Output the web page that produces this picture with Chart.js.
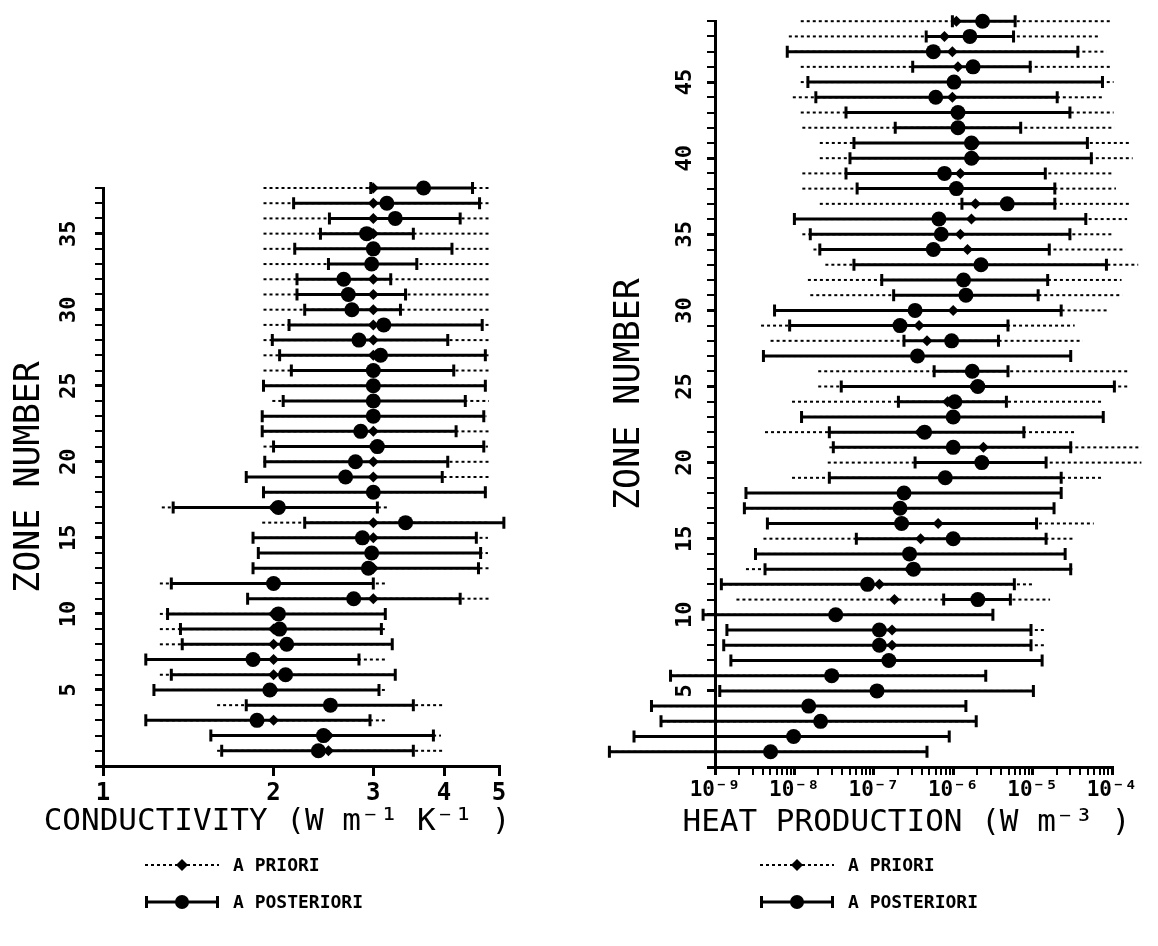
<!DOCTYPE html>
<html>
<head>
<meta charset="utf-8">
<script src="https://cdn.jsdelivr.net/npm/chart.js@4.4.1/dist/chart.umd.min.js"></script>
<style>
  html, body { margin: 0; padding: 0; background: #fff; }
  body { width: 1158px; height: 946px; position: relative; overflow: hidden; font-family: "DejaVu Sans Mono", monospace; }
  .panel { position: absolute; top: 0; height: 850px; }
  #condBox { left: 0; width: 560px; }
  #heatBox { left: 560px; width: 598px; }
  .legend { position: absolute; top: 846px; font-size: 18px; font-weight: bold; color: #000; }
  .legend div { height: 37px; display: flex; align-items: center; }
  .legend canvas { margin-right: 14px; }
</style>
</head>
<body>
<div class="panel" id="condBox"><canvas id="cond"></canvas></div>
<div class="panel" id="heatBox"><canvas id="heat"></canvas></div>
<div class="legend" id="condLegend" style="left:145px"></div>
<div class="legend" id="heatLegend" style="left:760px"></div>
<script>
// ---- conductivity panel (W m-1 K-1), zones 1..38 ----
const condZones = [1, 2, 3, 4, 5, 6, 7, 8, 9, 10, 11, 12, 13, 14, 15, 16, 17, 18, 19,
  20, 21, 22, 23, 24, 25, 26, 27, 28, 29, 30, 31, 32, 33, 34, 35, 36, 37, 38];
const condPrior = [2.5, 2.5, 2.0, 2.5, 2.0, 2.0, 2.0, 2.0, 2.0, 2.0,
  3.0, 2.0, 3.0, 3.0, 3.0, 3.0, 2.0, 3.0, 3.0, 3.0,
  3.0, 3.0, 3.0, 3.0, 3.0, 3.0, 3.0, 3.0, 3.0, 3.0,
  3.0, 3.0, 3.0, 3.0, 3.0, 3.0, 3.0, 3.0];
const condPriorLo = [1.59, 1.59, 1.26, 1.59, 1.26, 1.26, 1.26, 1.26, 1.26, 1.26,
  1.92, 1.26, 1.92, 1.92, 1.92, 1.91, 1.27, 1.92, 1.92, 1.92,
  1.92, 1.92, 1.92, 1.99, 1.92, 1.92, 1.92, 1.92, 1.92, 1.92,
  1.92, 1.92, 1.92, 1.92, 1.92, 1.92, 1.92, 1.92];
const condPriorHi = [3.99, 3.95, 3.17, 3.99, 3.17, 3.28, 3.17, 3.2, 3.17, 3.17,
  4.8, 3.17, 4.8, 4.78, 4.78, 4.8, 3.17, 4.75, 4.8, 4.8,
  4.78, 4.8, 4.75, 4.8, 4.75, 4.8, 4.8, 4.8, 4.8, 4.83,
  4.83, 4.83, 4.83, 4.83, 4.83, 4.83, 4.83, 4.83];
const condPost = [2.4, 2.45, 1.87, 2.52, 1.97, 2.1, 1.84, 2.11, 2.05, 2.04,
  2.77, 2.0, 2.94, 2.98, 2.87, 3.42, 2.04, 3.0, 2.68, 2.79,
  3.05, 2.85, 3.0, 3.0, 3.0, 3.0, 3.09, 2.83, 3.13, 2.75,
  2.71, 2.66, 2.98, 3.0, 2.92, 3.28, 3.17, 3.68];
const condPostLo = [1.62, 1.55, 1.19, 1.79, 1.23, 1.32, 1.19, 1.38, 1.37, 1.30,
  1.8, 1.32, 1.84, 1.88, 1.84, 2.27, 1.33, 1.92, 1.79, 1.93,
  2.0, 1.91, 1.91, 2.08, 1.92, 2.15, 2.05, 1.99, 2.13, 2.27,
  2.2, 2.2, 2.5, 2.18, 2.42, 2.51, 2.17, 2.97];
const condPostHi = [3.53, 3.83, 2.96, 3.53, 3.07, 3.28, 2.83, 3.24, 3.1, 3.15,
  4.27, 3.0, 4.6, 4.64, 4.56, 5.1, 3.05, 4.73, 3.97, 4.06,
  4.7, 4.2, 4.7, 4.36, 4.73, 4.16, 4.73, 4.06, 4.67, 3.35,
  3.42, 3.22, 3.58, 4.13, 3.53, 4.27, 4.62, 4.49];
const condTicks = [1, 2, 3, 4, 5];
const condTickLabels = ['1', '2', '3', '4', '5'];

// ---- heat production panel, log10(W m-3), zones 1..49 ----
const heatZones = [1, 2, 3, 4, 5, 6, 7, 8, 9, 10, 11, 12, 13, 14, 15, 16, 17, 18, 19,
  20, 21, 22, 23, 24, 25, 26, 27, 28, 29, 30, 31, 32, 33, 34, 35, 36, 37, 38, 39,
  40, 41, 42, 43, 44, 45, 46, 47, 48, 49];
const heatPriorLog = [-8.3, -8.01, -7.67, -7.82, -6.96, -7.53, -6.81, -6.77, -6.77, -7.48,
  -6.74, -6.93, -6.55, -6.55, -6.41, -6.19, -6.67, -6.62, -6.07, -5.6,
  -5.62, -6.42, -6.0, -6.07, -5.74, -5.74, -6.45, -6.33, -6.43, -6.0,
  -5.84, -5.86, -5.64, -5.82, -5.91, -5.77, -5.72, -5.93, -5.91, -5.72,
  -5.72, -5.94, -5.94, -6.01, -5.97, -5.94, -6.01, -6.11, -5.96];
const heatPriorLoLog = [-10.33, -10.02, -9.68, -9.8, -8.94, -9.56, -8.8, -8.75, -8.75, -9.15,
  -8.73, -8.9, -8.61, -8.49, -8.39, -8.17, -8.63, -8.61, -8.03, -7.58,
  -7.56, -8.37, -7.91, -8.03, -7.7, -7.7, -8.39, -8.3, -8.42, -7.96,
  -7.8, -7.83, -7.61, -7.76, -7.9, -7.77, -7.68, -7.9, -7.9, -7.68,
  -7.68, -7.9, -7.92, -8.02, -7.92, -7.92, -8.0, -8.07, -7.92];
const heatPriorHiLog = [-6.33, -6.05, -5.71, -5.84, -4.99, -5.59, -4.88, -4.83, -4.83, -5.5,
  -4.78, -4.99, -4.5, -4.59, -4.47, -4.23, -4.73, -4.64, -4.11, -3.63,
  -3.63, -4.47, -4.11, -4.11, -3.78, -3.78, -4.52, -4.37, -4.47, -4.06,
  -3.87, -3.88, -3.67, -3.83, -3.98, -3.81, -3.76, -3.95, -3.98, -3.74,
  -3.76, -3.97, -3.98, -4.1, -3.98, -4.0, -4.07, -4.17, -4.0];
const heatPostLog = [-8.3, -8.01, -7.67, -7.82, -6.96, -7.53, -6.81, -6.93, -6.93, -7.48,
  -5.69, -7.08, -6.5, -6.55, -6.0, -6.65, -6.67, -6.62, -6.1, -5.64,
  -6.0, -6.36, -6.0, -5.98, -5.69, -5.76, -6.45, -6.02, -6.67, -6.48,
  -5.84, -5.87, -5.65, -6.25, -6.15, -6.18, -5.32, -5.96, -6.11, -5.77,
  -5.77, -5.94, -5.94, -6.22, -5.99, -5.75, -6.25, -5.79, -5.63];
const heatPostLoLog = [-10.33, -10.02, -9.68, -9.8, -8.94, -9.56, -8.8, -8.89, -8.85, -9.15,
  -6.12, -8.92, -8.37, -8.49, -7.22, -8.34, -8.63, -8.61, -7.56, -6.48,
  -7.51, -7.56, -7.91, -6.69, -7.41, -6.24, -8.39, -6.62, -8.06, -8.25,
  -6.75, -6.9, -7.25, -7.68, -7.8, -8.0, -5.89, -7.21, -7.35, -7.3,
  -7.25, -6.73, -7.35, -7.73, -7.83, -6.51, -8.09, -6.34, -6.01];
const heatPostHiLog = [-6.33, -6.05, -5.71, -5.84, -4.99, -5.59, -4.88, -5.02, -5.02, -5.5,
  -5.28, -5.23, -4.52, -4.59, -4.83, -4.95, -4.73, -4.64, -4.64, -4.83,
  -4.52, -5.11, -4.11, -5.33, -3.97, -5.31, -4.52, -5.43, -5.31, -4.64,
  -4.93, -4.81, -4.07, -4.79, -4.53, -4.33, -4.72, -4.72, -4.84, -4.26,
  -4.31, -5.15, -4.53, -4.69, -4.12, -5.03, -4.43, -5.24, -5.22];
const heatDecades = [-9, -8, -7, -6, -5, -4];
const heatTickLabels = ['10⁻⁹', '10⁻⁸', '10⁻⁷', '10⁻⁶', '10⁻⁵', '10⁻⁴'];

const FONT = '"DejaVu Sans Mono", monospace';
Chart.defaults.font.family = FONT;
Chart.defaults.color = '#000';

const fromLog = (arr) => arr.map((e) => Math.pow(10, e));

// error bars are drawn under the markers, through the chart scales
function makeErrorBars(zones, priorLo, priorHi, postLo, postHi) {
  return {
    id: 'errorBars',
    beforeDatasetsDraw(chart) {
      const { ctx, scales: { x, y } } = chart;
      ctx.save();
      ctx.strokeStyle = '#000';
      ctx.lineWidth = 2;
      ctx.setLineDash([3, 3]);
      zones.forEach((z, i) => {
        const py = y.getPixelForValue(z);
        ctx.beginPath();
        ctx.moveTo(x.getPixelForValue(priorLo[i]), py);
        ctx.lineTo(x.getPixelForValue(priorHi[i]), py);
        ctx.stroke();
      });
      ctx.setLineDash([]);
      ctx.lineWidth = 3;
      zones.forEach((z, i) => {
        const py = y.getPixelForValue(z);
        const x0 = x.getPixelForValue(postLo[i]);
        const x1 = x.getPixelForValue(postHi[i]);
        ctx.beginPath();
        ctx.moveTo(x0, py);
        ctx.lineTo(x1, py);
        ctx.moveTo(x0, py - 6);
        ctx.lineTo(x0, py + 6);
        ctx.moveTo(x1, py - 6);
        ctx.lineTo(x1, py + 6);
        ctx.stroke();
      });
      ctx.restore();
    },
  };
}

// x-axis title drawn without the chart-area width limit (Chart.js squeezes long titles)
function makeXTitle(text, dx) {
  return {
    id: 'xTitle',
    afterDraw(chart) {
      const { ctx, chartArea } = chart;
      ctx.save();
      ctx.font = '31px ' + FONT;
      ctx.fillStyle = '#000';
      ctx.textAlign = 'center';
      ctx.textBaseline = 'middle';
      ctx.fillText(text, (chartArea.left + chartArea.right) / 2 + dx, chartArea.bottom + 56);
      ctx.restore();
    },
  };
}

function markerSets(zones, prior, post) {
  return [
    {
      label: 'A PRIORI',
      data: zones.map((z, i) => ({ x: prior[i], y: z })),
      pointStyle: 'rectRot',
      pointRadius: 5.5,
      backgroundColor: '#000',
      borderColor: '#000',
      borderWidth: 0,
      clip: false,
    },
    {
      label: 'A POSTERIORI',
      data: zones.map((z, i) => ({ x: post[i], y: z })),
      pointStyle: 'circle',
      pointRadius: 7.5,
      backgroundColor: '#000',
      borderColor: '#000',
      borderWidth: 0,
      clip: false,
    },
  ];
}

function zoneAxis(maxZone, yWidth, titlePad, tickPad) {
  return {
    type: 'linear',
    min: 0,
    max: maxZone,
    afterFit: (s) => { s.width = yWidth; },
    ticks: {
      stepSize: 1,
      autoSkip: false,
      minRotation: 90,
      maxRotation: 90,
      crossAlign: 'center',
      padding: tickPad,
      font: { size: 22, weight: 'bold' },
      callback: (v) => (v > 0 && v % 5 === 0 ? String(v) : ''),
    },
    grid: {
      drawOnChartArea: false,
      drawTicks: true,
      tickLength: 8,
      color: '#000',
      lineWidth: (c) => (c.tick && c.tick.value % 5 === 0 ? 3 : 2),
    },
    border: { display: true, color: '#000', width: 3 },
    title: {
      display: true,
      text: 'ZONE NUMBER',
      font: { size: 35 },
      padding: { top: titlePad, bottom: 0 },
    },
  };
}

// conductivity chart
new Chart(document.getElementById('cond'), {
  type: 'scatter',
  data: { datasets: markerSets(condZones, condPrior, condPost) },
  plugins: [
    makeErrorBars(condZones, condPriorLo, condPriorHi, condPostLo, condPostHi),
    makeXTitle('CONDUCTIVITY (W m⁻¹ K⁻¹ )', -24),
  ],
  options: {
    responsive: true,
    maintainAspectRatio: false,
    animation: false,
    layout: { padding: { top: 188, right: 61, left: 0, bottom: 14 } },
    plugins: { legend: { display: false }, tooltip: { enabled: false } },
    scales: {
      x: {
        type: 'logarithmic',
        min: 1,
        max: 5,
        afterFit: (s) => { s.height = 70; },
        afterBuildTicks: (s) => { s.ticks = condTicks.map((v) => ({ value: v, major: true })); },
        ticks: {
          autoSkip: false,
          maxRotation: 0,
          padding: 3,
          font: { size: 24, weight: 'bold' },
          callback: (v) => condTickLabels[condTicks.indexOf(v)] ?? '',
        },
        grid: { drawOnChartArea: false, drawTicks: true, tickLength: 10, color: '#000', lineWidth: 3 },
        border: { display: true, color: '#000', width: 3 },
        title: { display: false },
      },
      y: zoneAxis(38, 103, 9, 12),
    },
  },
});

// heat production chart
const heatTicks = heatDecades.flatMap((n) =>
  n === -4 ? [{ value: 1e-4, major: true }] :
  [1, 2, 3, 4, 5, 6, 7, 8, 9].map((m) => ({ value: m * Math.pow(10, n), major: m === 1 })));

new Chart(document.getElementById('heat'), {
  type: 'scatter',
  data: { datasets: markerSets(heatZones, fromLog(heatPriorLog), fromLog(heatPostLog)) },
  plugins: [
    makeErrorBars(heatZones, fromLog(heatPriorLoLog), fromLog(heatPriorHiLog),
      fromLog(heatPostLoLog), fromLog(heatPostHiLog)),
    makeXTitle('HEAT PRODUCTION (W m⁻³ )', -7),
  ],
  options: {
    responsive: true,
    maintainAspectRatio: false,
    animation: false,
    layout: { padding: { top: 17, right: 46, left: 0, bottom: 13 } },
    plugins: { legend: { display: false }, tooltip: { enabled: false } },
    scales: {
      x: {
        type: 'logarithmic',
        min: 1e-9,
        max: 1e-4,
        afterFit: (s) => { s.height = 70; },
        afterBuildTicks: (s) => { s.ticks = heatTicks.map((t) => ({ ...t })); },
        ticks: {
          autoSkip: false,
          maxRotation: 0,
          padding: 3,
          font: { size: 21, weight: 'bold' },
          callback: (v) => {
            const e = Math.round(Math.log10(v));
            if (Math.abs(Math.log10(v) - e) > 1e-6) return '';
            return heatTickLabels[heatDecades.indexOf(e)] ?? '';
          },
        },
        grid: {
          drawOnChartArea: false,
          drawTicks: true,
          tickLength: 8,
          color: '#000',
          lineWidth: (c) => (c.tick && c.tick.major ? 3 : 2),
        },
        border: { display: true, color: '#000', width: 3 },
        title: { display: false },
      },
      y: zoneAxis(49, 155, 49, 8),
    },
  },
});

// legends: sample line + marker drawn on a small canvas, text kept as text
function legendRow(host, text, posterior) {
  const row = document.createElement('div');
  const c = document.createElement('canvas');
  c.width = 74;
  c.height = 20;
  const g = c.getContext('2d');
  g.strokeStyle = '#000';
  g.fillStyle = '#000';
  if (posterior) {
    g.lineWidth = 3;
    g.beginPath();
    g.moveTo(1, 10); g.lineTo(73, 10);
    g.moveTo(1.5, 4); g.lineTo(1.5, 16);
    g.moveTo(72.5, 4); g.lineTo(72.5, 16);
    g.stroke();
    g.beginPath();
    g.arc(37, 10, 7, 0, Math.PI * 2);
    g.fill();
  } else {
    g.lineWidth = 2;
    g.setLineDash([3, 3]);
    g.beginPath();
    g.moveTo(0, 10); g.lineTo(74, 10);
    g.stroke();
    g.beginPath();
    g.moveTo(37, 4); g.lineTo(43, 10); g.lineTo(37, 16); g.lineTo(31, 10);
    g.closePath();
    g.fill();
  }
  const span = document.createElement('span');
  span.textContent = text;
  row.appendChild(c);
  row.appendChild(span);
  host.appendChild(row);
}
['condLegend', 'heatLegend'].forEach((id) => {
  const host = document.getElementById(id);
  legendRow(host, 'A PRIORI', false);
  legendRow(host, 'A POSTERIORI', true);
});
</script>
</body>
</html>
